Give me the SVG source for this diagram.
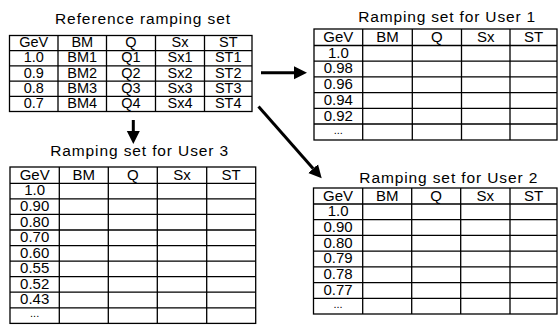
<svg xmlns="http://www.w3.org/2000/svg" width="558" height="326" viewBox="0 0 558 326">
<style>
  .grid { fill: none; stroke: #000; stroke-width: 1.3; }
  .title { font-family: "Liberation Sans", Arial, sans-serif; font-size: 15.5px; fill: #000; text-anchor: middle; }
  .cell { font-family: "Liberation Sans", Arial, sans-serif; font-size: 15px; fill: #000; text-anchor: middle; }
  .cell-s { font-family: "Liberation Sans", Arial, sans-serif; font-size: 14.5px; fill: #000; text-anchor: middle; }
  .dots { font-family: "Liberation Sans", Arial, sans-serif; font-size: 11px; fill: #000; text-anchor: middle; }
  .arrow { stroke: #000; stroke-width: 3; fill: none; marker-end: url(#head); }
</style>
<defs>
  <marker id="head" markerUnits="userSpaceOnUse" markerWidth="14" markerHeight="14" refX="0" refY="7" orient="auto">
    <path d="M0,0.5 L13,7 L0,13.5 Z" fill="#000"/>
  </marker>
</defs>
<rect width="558" height="326" fill="#fff"/>

<g id="reference-table">
  <text class="title" x="142.5" y="23.8" textLength="175" lengthAdjust="spacing">Reference ramping set</text>
  <rect class="grid" x="9.5" y="35.5" width="242.5" height="76"/>
  <path class="grid" d="M58,35.5V111.5 M106.5,35.5V111.5 M155.5,35.5V111.5 M204.5,35.5V111.5 M9.5,50.7H252 M9.5,65.9H252 M9.5,81.1H252 M9.5,96.3H252"/>
  <g class="cell-s">
    <text x="33.75" y="47.2">GeV</text><text x="82.25" y="47.2">BM</text><text x="131" y="47.2">Q</text><text x="180" y="47.2">Sx</text><text x="228.25" y="47.2">ST</text>
    <text x="33.75" y="62.4">1.0</text><text x="82.25" y="62.4">BM1</text><text x="131" y="62.4">Q1</text><text x="180" y="62.4">Sx1</text><text x="228.25" y="62.4">ST1</text>
    <text x="33.75" y="77.6">0.9</text><text x="82.25" y="77.6">BM2</text><text x="131" y="77.6">Q2</text><text x="180" y="77.6">Sx2</text><text x="228.25" y="77.6">ST2</text>
    <text x="33.75" y="92.8">0.8</text><text x="82.25" y="92.8">BM3</text><text x="131" y="92.8">Q3</text><text x="180" y="92.8">Sx3</text><text x="228.25" y="92.8">ST3</text>
    <text x="33.75" y="108">0.7</text><text x="82.25" y="108">BM4</text><text x="131" y="108">Q4</text><text x="180" y="108">Sx4</text><text x="228.25" y="108">ST4</text>
  </g>
</g>

<g id="user1-table">
  <text class="title" x="446.7" y="21.7" textLength="177" lengthAdjust="spacing">Ramping set for User 1</text>
  <rect class="grid" x="314" y="29" width="243" height="111"/>
  <path class="grid" d="M362.7,29V140 M412.3,29V140 M461.5,29V140 M510,29V140 M314,45.5H557 M314,61.2H557 M314,76.9H557 M314,92.6H557 M314,108.3H557 M314,124H557"/>
  <g class="cell">
    <text x="338.35" y="42">GeV</text><text x="387.5" y="42">BM</text><text x="436.9" y="42">Q</text><text x="485.75" y="42">Sx</text><text x="533.5" y="42">ST</text>
    <text x="338.35" y="57.7">1.0</text>
    <text x="338.35" y="73.4">0.98</text>
    <text x="338.35" y="89.1">0.96</text>
    <text x="338.35" y="104.8">0.94</text>
    <text x="338.35" y="120.5">0.92</text>
  </g>
  <text class="dots" x="338.35" y="133.5">...</text>
</g>

<g id="user3-table">
  <text class="title" x="139.2" y="156" textLength="178" lengthAdjust="spacing">Ramping set for User 3</text>
  <rect class="grid" x="10" y="167" width="245.7" height="156.4"/>
  <path class="grid" d="M59.3,167V323.4 M108.3,167V323.4 M157.3,167V323.4 M206.7,167V323.4 M10,183.3H255.7 M10,198.9H255.7 M10,214.4H255.7 M10,230H255.7 M10,245.6H255.7 M10,261.1H255.7 M10,276.7H255.7 M10,292.2H255.7 M10,307.8H255.7"/>
  <g class="cell">
    <text x="34.65" y="179.8">GeV</text><text x="83.8" y="179.8">BM</text><text x="132.8" y="179.8">Q</text><text x="182" y="179.8">Sx</text><text x="231.2" y="179.8">ST</text>
    <text x="34.65" y="195.4">1.0</text>
    <text x="34.65" y="210.9">0.90</text>
    <text x="34.65" y="226.5">0.80</text>
    <text x="34.65" y="242.1">0.70</text>
    <text x="34.65" y="257.6">0.60</text>
    <text x="34.65" y="273.2">0.55</text>
    <text x="34.65" y="288.7">0.52</text>
    <text x="34.65" y="304.3">0.43</text>
  </g>
  <text class="dots" x="34.65" y="317.2">...</text>
</g>

<g id="user2-table">
  <text class="title" x="448.3" y="183.3" textLength="178" lengthAdjust="spacing">Ramping set for User 2</text>
  <rect class="grid" x="313.5" y="188" width="243.5" height="126"/>
  <path class="grid" d="M362.7,188V314 M411.7,188V314 M460.7,188V314 M510,188V314 M313.5,204H557 M313.5,219.7H557 M313.5,235.4H557 M313.5,251.1H557 M313.5,266.9H557 M313.5,282.6H557 M313.5,298.3H557"/>
  <g class="cell">
    <text x="338.1" y="200.5">GeV</text><text x="387.2" y="200.5">BM</text><text x="436.2" y="200.5">Q</text><text x="485.35" y="200.5">Sx</text><text x="533.5" y="200.5">ST</text>
    <text x="338.1" y="216.2">1.0</text>
    <text x="338.1" y="231.9">0.90</text>
    <text x="338.1" y="247.6">0.80</text>
    <text x="338.1" y="263.4">0.79</text>
    <text x="338.1" y="279.1">0.78</text>
    <text x="338.1" y="294.8">0.77</text>
  </g>
  <text class="dots" x="338.1" y="307.7">...</text>
</g>

<g id="connectors">
  <line class="arrow" x1="261" y1="72.7" x2="294" y2="72.7"/>
  <line class="arrow" x1="258.5" y1="106.5" x2="313.1" y2="168.6"/>
  <line class="arrow" x1="133.3" y1="120" x2="133.3" y2="131"/>
</g>
</svg>
